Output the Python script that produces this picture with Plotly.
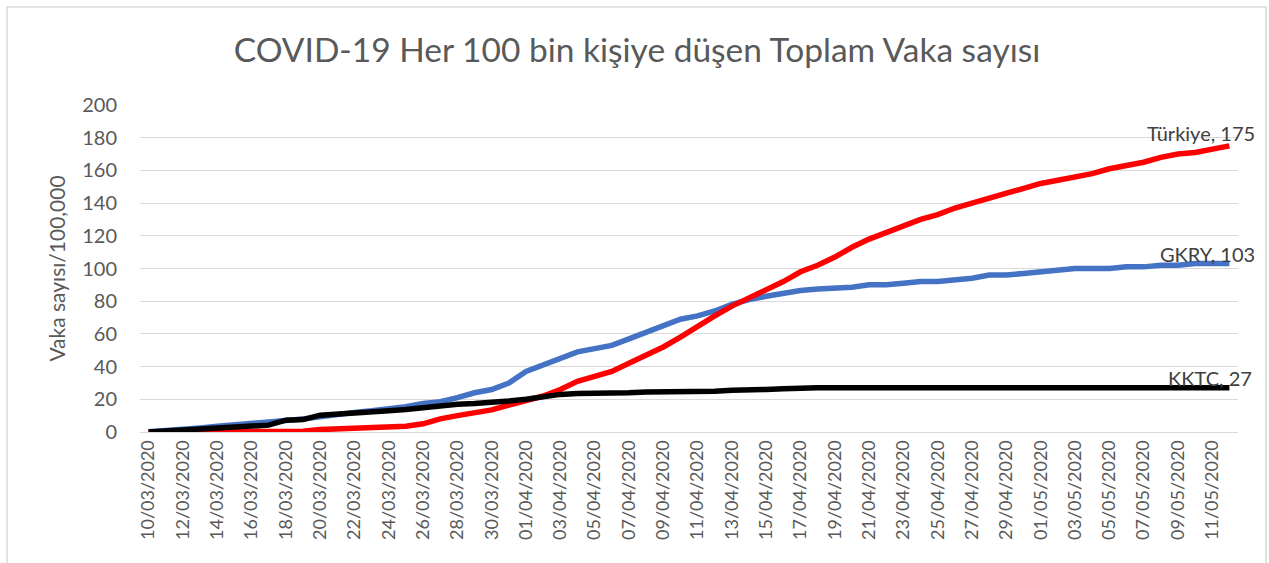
import plotly.graph_objects as go

dates = [
    "10/03/2020", "11/03/2020", "12/03/2020", "13/03/2020", "14/03/2020", "15/03/2020",
    "16/03/2020", "17/03/2020", "18/03/2020", "19/03/2020", "20/03/2020", "21/03/2020",
    "22/03/2020", "23/03/2020", "24/03/2020", "25/03/2020", "26/03/2020", "27/03/2020",
    "28/03/2020", "29/03/2020", "30/03/2020", "31/03/2020", "01/04/2020", "02/04/2020",
    "03/04/2020", "04/04/2020", "05/04/2020", "06/04/2020", "07/04/2020", "08/04/2020",
    "09/04/2020", "10/04/2020", "11/04/2020", "12/04/2020", "13/04/2020", "14/04/2020",
    "15/04/2020", "16/04/2020", "17/04/2020", "18/04/2020", "19/04/2020", "20/04/2020",
    "21/04/2020", "22/04/2020", "23/04/2020", "24/04/2020", "25/04/2020", "26/04/2020",
    "27/04/2020", "28/04/2020", "29/04/2020", "30/04/2020", "01/05/2020", "02/05/2020",
    "03/05/2020", "04/05/2020", "05/05/2020", "06/05/2020", "07/05/2020", "08/05/2020",
    "09/05/2020", "10/05/2020", "11/05/2020", "12/05/2020",
]

turkiye = [
    0, 0, 0, 0, 0, 0, 0, 0, 0, 0.5, 1.5, 2, 2.5, 2.7, 3, 3.5, 5, 8, 10, 12,
    13.5, 16.5, 19, 22, 26, 31, 34, 37, 42, 47, 52, 58, 65, 71, 77, 82, 87, 92,
    98, 102, 107, 113, 118, 122, 126, 130, 133, 137, 140, 143, 146, 149, 152,
    154, 156, 158, 161, 163, 165, 168, 170, 171, 173, 175,
]

gkry = [
    0.2, 0.7, 1.4, 2.5, 3.5, 4.2, 5, 6, 7, 8, 9.5, 10.5, 12, 13, 14, 15.5, 17.5,
    18.5, 21, 24, 26, 30, 37, 41, 45, 49, 51, 53, 57, 61, 65, 69, 71, 74, 78, 81,
    83, 85, 86.5, 87.5, 88, 88.5, 90, 90, 91, 92, 92, 93, 94, 96, 96, 97, 98, 99,
    100, 100, 100, 101, 101, 102, 102, 103, 103, 103,
]

kktc = [
    0, 0.7, 1.4, 2, 2.5, 3, 3.5, 4.2, 7.2, 7.6, 10.3, 10.8, 11.3, 12, 13, 13.8,
    15, 16.5, 17, 17.5, 18, 19, 20, 21.5, 23, 23.5, 23.5, 24, 24, 24.5, 24.5, 25,
    25, 25, 25.5, 25.5, 26, 26.5, 27, 27, 27, 27, 27, 27, 27, 27, 27, 27, 27, 27,
    27, 27, 27, 27, 27, 27, 27, 27, 27, 27, 27, 27, 27, 27,
]

series_names = ["GKRY", "Türkiye", "KKTC"]
label_values = [103, 175, 27]
colors = {"GKRY": "#4472C4", "Türkiye": "#FF0000", "KKTC": "#000000"}

title_text = "COVID-19 Her 100 bin kişiye düşen Toplam Vaka sayısı"
y_title = "Vaka sayısı/100,000"
y_ticks = [0, 20, 40, 60, 80, 100, 120, 140, 160, 180, 200]

FONT = "Lato, 'Open Sans', 'DejaVu Sans', sans-serif"

data_map = {"GKRY": gkry, "Türkiye": turkiye, "KKTC": kktc}

fig = go.Figure()
for name in series_names:
    fig.add_trace(go.Scatter(
        x=dates, y=data_map[name], mode="lines", name=name,
        line=dict(color=colors[name], width=5.5),
        showlegend=False, hoverinfo="x+y+name",
    ))

label_shift = {"Türkiye": (28, 13), "GKRY": (28, 10), "KKTC": (25, 10)}
for name, val in zip(series_names, label_values):
    xs, ys = label_shift[name]
    fig.add_annotation(
        x=dates[-1], y=data_map[name][-1], xref="x", yref="y",
        text=f"{name}, {val}", showarrow=False,
        xanchor="right", yanchor="middle", xshift=xs, yshift=ys,
        font=dict(family=FONT, size=20, color="#404040"),
    )

# outer chart border
fig.add_shape(
    type="rect", xref="paper", yref="paper",
    x0=-0.1211, x1=1.0255, y0=-0.45, y1=1.2997,
    line=dict(color="#d9d9d9", width=1.5), fillcolor="rgba(0,0,0,0)", layer="below",
)

fig.update_layout(
    width=1269, height=563,
    margin=dict(l=140, r=31, t=105, b=131),
    paper_bgcolor="white", plot_bgcolor="white",
    title=dict(
        text=title_text, x=0.502, xref="container", xanchor="center",
        y=1 - 50 / 563, yref="container", yanchor="middle",
        font=dict(family=FONT, size=33.5, color="#595959"),
    ),
    font=dict(family=FONT, color="#595959"),
)

fig.update_xaxes(
    type="category", categoryorder="array", categoryarray=dates,
    range=[-0.5, len(dates) - 0.5],
    tickmode="array", tickvals=dates[::2], ticktext=dates[::2],
    tickangle=-90, tickfont=dict(family=FONT, size=18, color="#595959"),
    showgrid=False, showline=True, linecolor="#d9d9d9", linewidth=1,
    ticks="", zeroline=False,
)

fig.update_yaxes(
    range=[0, 200], tickmode="array", tickvals=y_ticks,
    tickfont=dict(family=FONT, size=20, color="#595959"),
    showgrid=True, gridcolor="#d9d9d9", gridwidth=1.3,
    showline=False, zeroline=False, ticks="", ticklabelstandoff=22,
    title=dict(text=y_title, font=dict(family=FONT, size=21, color="#595959"), standoff=10),
)

fig.write_html(
    "out.html",
    config={"displayModeBar": False},
    post_script="document.body.style.margin='0';",
)
